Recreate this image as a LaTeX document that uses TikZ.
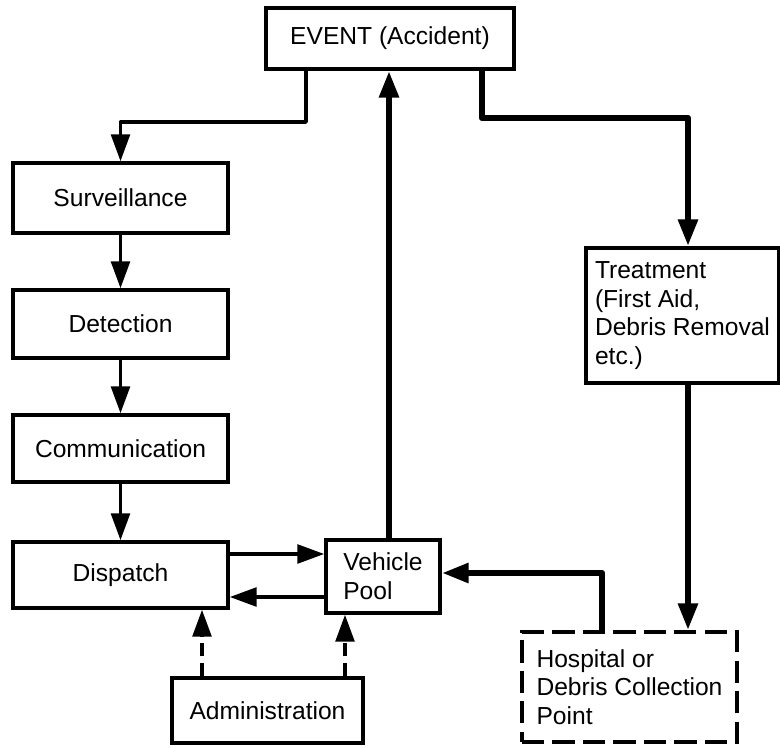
\documentclass[tikz,border=0pt]{standalone}
\usepackage{fontspec}
\setmainfont{Liberation Sans}
\usepackage{tikz}
\usetikzlibrary{arrows.meta}
\def\thinedge{3pt}
\def\thickedge{5.5pt}
\definecolor{edgeblack}{rgb}{0,0,0}

\begin{document}
\begin{tikzpicture}[x = 0.03cm, y = -0.03cm,
    box/.style={draw=edgeblack, line width=\thinedge, inner sep=0pt, align=left,
        font=\fontsize{21pt}{24.5pt}\selectfont},
    thinarrow/.style={line width=\thinedge, color=edgeblack, line join=round,
        -{Triangle[length=23pt,width=16pt]}},
    thickarrow/.style={line width=\thickedge, color=edgeblack, line join=round,
        -{Triangle[length=23pt,width=16pt]}},
    dasharrow/.style={thinarrow, dash pattern=on 11pt off 6pt}]

    \useasboundingbox (0,0) rectangle (780,747);

    % boxes
    \node[box, minimum width=7.44cm, minimum height=1.83cm] (event) at (390,38.5) {EVENT (Accident)};
    \node[box, minimum width=6.45cm, minimum height=2.1cm] (surv) at (120.5,198) {Surveillance};
    \node[box, minimum width=6.45cm, minimum height=2.04cm] (detect) at (120.5,324) {Detection};
    \node[box, minimum width=6.45cm, minimum height=2.01cm] (comm) at (120.5,448.5) {Communication};
    \node[box, minimum width=6.45cm, minimum height=1.98cm] (disp) at (120.5,575) {Dispatch};
    \node[box, minimum width=3.42cm, minimum height=2.19cm] (pool) at (383,576.5) {Vehicle\\Pool};
    \node[box, minimum width=5.73cm, minimum height=1.95cm] (admin) at (267.5,710.5) {Administration};
    \node[box, minimum width=5.79cm, minimum height=4.05cm] (treat) at (682.5,315.5)
        {Treatment\\(First Aid,\\Debris Removal\\etc.)};
    \node[box, dash pattern=on 19pt off 7pt, minimum width=6.45cm, minimum height=3.3cm] (hosp) at (629.5,687)
        {Hospital or\\Debris Collection\\Point};

    % bends
    \coordinate (l1) at (306,122);
    \coordinate (r1) at (482,118);
    \coordinate (r2) at (688,118);
    \coordinate (up) at (389,300);
    \coordinate (h1) at (602,573);
    \coordinate (d1) at (0,554);
    \coordinate (d2) at (0,597);
    \coordinate (a1) at (202,0);
    \coordinate (a2) at (345,0);

    % left chain
    \draw [thinarrow] (event.south -| l1) -- (l1) -- (l1 -| surv.north) -- (surv.north);
    \draw [thinarrow] (surv) -- (detect);
    \draw [thinarrow] (detect) -- (comm);
    \draw [thinarrow] (comm) -- (disp);
    \draw [thinarrow] (disp.east |- d1) -- (pool.west |- d1);
    \draw [thinarrow] (pool.west |- d2) -- (disp.east |- d2);

    % heavy paths
    \draw [thickarrow] (event.south -| r1) -- (r1) -- (r2) -- (r2 |- treat.north);
    \draw [thickarrow] (r2 |- treat.south) -- (r2 |- hosp.north);
    \draw [thickarrow] (hosp.north -| h1) -- (h1) -- (h1 -| pool.east);
    \draw [thickarrow] (pool.north -| up) -- (event.south -| up);

    % administration
    \draw [dasharrow] (admin.north -| a1) -- (disp.south -| a1);
    \draw [dasharrow] (admin.north -| a2) -- (pool.south -| a2);

\end{tikzpicture}
\end{document}
